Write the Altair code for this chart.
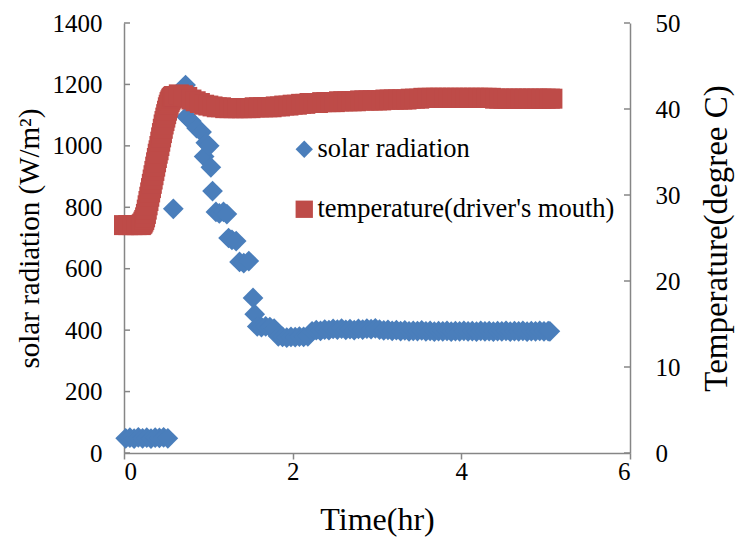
import altair as alt
import pandas as pd

# ---------------- data ----------------
temp_time = [0.00, 0.05, 0.10, 0.15,
             0.20, 0.21, 0.22, 0.23, 0.24, 0.25, 0.26, 0.27, 0.28, 0.29,
             0.30, 0.31, 0.32, 0.33, 0.34, 0.35, 0.36, 0.37, 0.38, 0.39,
             0.40, 0.41, 0.42, 0.43, 0.44, 0.45, 0.46, 0.47, 0.48, 0.49,
             0.50, 0.51, 0.52, 0.53, 0.54, 0.55, 0.56, 0.57, 0.58, 0.59,
             0.60, 0.65, 0.70, 0.75, 0.80, 0.85, 0.90, 0.95,
             1.00, 1.05, 1.10, 1.15, 1.20, 1.25, 1.30, 1.35, 1.40, 1.45,
             1.50, 1.55, 1.60, 1.65, 1.70, 1.75, 1.80, 1.85, 1.90, 1.95,
             2.00, 2.05, 2.10, 2.15, 2.20, 2.25, 2.30, 2.35, 2.40, 2.45,
             2.50, 2.55, 2.60, 2.65, 2.70, 2.75, 2.80, 2.85, 2.90, 2.95,
             3.00, 3.05, 3.10, 3.15, 3.20, 3.25, 3.30, 3.35, 3.40, 3.45,
             3.50, 3.55, 3.60, 3.65, 3.70, 3.75, 3.80, 3.85, 3.90, 3.95,
             4.00, 4.05, 4.10, 4.15, 4.20, 4.25, 4.30, 4.35, 4.40, 4.45,
             4.50, 4.55, 4.60, 4.65, 4.70, 4.75, 4.80, 4.85, 4.90, 4.95,
             5.00, 5.05, 5.08]
temp_value = [26.5, 26.5, 26.5, 26.5,
              26.5, 26.6, 26.7, 26.9, 27.1, 27.4, 27.8, 28.3, 28.8, 29.3,
              29.8, 30.3, 30.8, 31.3, 31.8, 32.3, 32.8, 33.3, 33.8, 34.3,
              34.8, 35.2, 35.7, 36.2, 36.7, 37.2, 37.7, 38.2, 38.6, 39.0,
              39.4, 39.8, 40.2, 40.5, 40.8, 41.0, 41.2, 41.3, 41.4, 41.5,
              41.5, 41.7, 41.6, 41.4, 41.1, 40.9, 40.7, 40.5,
              40.4, 40.3, 40.2, 40.2, 40.1, 40.1, 40.1, 40.1, 40.1, 40.1,
              40.1, 40.2, 40.2, 40.2, 40.2, 40.2, 40.3, 40.3, 40.4, 40.4,
              40.5, 40.5, 40.6, 40.6, 40.7, 40.7, 40.7, 40.8, 40.8, 40.8,
              40.8, 40.9, 40.9, 40.9, 40.9, 40.9, 41.0, 41.0, 41.0, 41.0,
              41.0, 41.0, 41.1, 41.1, 41.1, 41.1, 41.1, 41.1, 41.2, 41.2,
              41.2, 41.3, 41.3, 41.3, 41.3, 41.3, 41.3, 41.3, 41.3, 41.3,
              41.3, 41.3, 41.3, 41.3, 41.3, 41.3, 41.3, 41.3, 41.2, 41.2,
              41.2, 41.2, 41.2, 41.2, 41.2, 41.2, 41.2, 41.2, 41.2, 41.2,
              41.2, 41.2, 41.2]

solar_time = [0.02, 0.07, 0.12, 0.17, 0.22, 0.27, 0.32, 0.37, 0.42, 0.47, 0.52,
              0.585, 0.73, 0.74, 0.80, 0.86, 0.92, 0.95, 0.97, 1.01, 1.03,
              1.05, 1.09, 1.13, 1.18, 1.22, 1.24, 1.28, 1.33, 1.37, 1.42,
              1.48, 1.53, 1.55, 1.58, 1.63, 1.68, 1.73, 1.78, 1.83, 1.88,
              1.93, 1.98, 2.03, 2.08, 2.13, 2.18, 2.23, 2.28, 2.33, 2.38,
              2.43, 2.48, 2.53, 2.58, 2.63, 2.68, 2.73, 2.78, 2.83, 2.88,
              2.93, 2.98, 3.03, 3.08, 3.13, 3.18, 3.23, 3.28, 3.33, 3.38,
              3.43, 3.48, 3.53, 3.58, 3.63, 3.68, 3.73, 3.78, 3.83, 3.88,
              3.93, 3.98, 4.03, 4.08, 4.13, 4.18, 4.23, 4.28, 4.33, 4.38,
              4.43, 4.48, 4.53, 4.58, 4.63, 4.68, 4.73, 4.78, 4.83, 4.88,
              4.93, 4.98, 5.03, 5.05]
solar_value = [48, 50, 47, 51, 48, 50, 47, 50, 49, 51, 48,
               795, 1198, 1095, 1080, 1058, 1045, 965, 1010, 1000, 930,
               853, 785, 780, 785, 778, 700, 694, 690, 622, 618,
               625, 505, 452, 412, 410, 412, 410, 405, 380, 378,
               376, 378, 377, 379, 378, 380, 396, 400, 398, 402,
               400, 404, 402, 405, 401, 403, 400, 404, 402, 405,
               403, 406, 402, 399, 401, 398, 400, 397, 399, 396,
               398, 397, 399, 396, 398, 395, 397, 396, 398, 395,
               397, 396, 398, 396, 397, 395, 398, 396, 397, 395,
               397, 396, 398, 395, 397, 396, 398, 395, 397, 396,
               398, 396, 397, 396]

series_names = ["solar radiation", "temperature(driver's mouth)"]
series_colors = ["#4A7EBB", "#BE4B48"]
series_shapes = ["diamond", "square"]

left_ticks = [0, 200, 400, 600, 800, 1000, 1200, 1400]
right_ticks = [0, 10, 20, 30, 40, 50]
x_ticks = [0, 2, 4, 6]

# ---------------- chart ----------------
W, H = 506, 430
FONT = "Liberation Serif"
AXIS_GRAY = "#868686"

solar_df = pd.DataFrame({"t": solar_time, "v": solar_value, "series": series_names[0]})
temp_df = pd.DataFrame({"t": temp_time, "v": temp_value, "series": series_names[1]})
lt_df = pd.DataFrame({"v": left_ticks})
rt_df = pd.DataFrame({"v": right_ticks})

x_enc = alt.X("t:Q", scale=alt.Scale(domain=[0, 6], nice=False, zero=False),
              axis=alt.Axis(values=x_ticks, title="Time(hr)", format="d",
                            tickSize=6, labelPadding=0, titlePadding=20,
                            titleFontSize=32))

color_enc = alt.Color("series:N",
                      scale=alt.Scale(domain=series_names, range=series_colors),
                      legend=alt.Legend(title=None, orient="none", legendX=167, legendY=113,
                                        direction="vertical", symbolSize=300,
                                        rowPadding=33, labelOffset=0, padding=0,
                                        labelFontSize=26.5, labelFont=FONT,
                                        labelColor="black", symbolStrokeWidth=0,
                                        labelLimit=400))
shape_enc = alt.Shape("series:N",
                      scale=alt.Scale(domain=series_names, range=series_shapes),
                      legend=None)

left_axis = alt.Axis(orient="left", values=left_ticks, title="solar radiation (W/m²)",
                     format="d", ticks=False, tickSize=0, labelPadding=22,
                     titlePadding=8, titleFontSize=29)
right_axis = alt.Axis(orient="right", values=right_ticks, title="Temperature(degree C)",
                      format="d", ticks=False, tickSize=0, labelPadding=25,
                      titlePadding=20, titleFontSize=33, titleAngle=270,
                      titleBaseline="top")
left_scale = alt.Scale(domain=[0, 1400], nice=False)
right_scale = alt.Scale(domain=[0, 50], nice=False)

solar_pts = alt.Chart(solar_df).mark_point(filled=True, size=430, opacity=1, strokeWidth=0).encode(
    x=x_enc,
    y=alt.Y("v:Q", scale=left_scale, axis=left_axis),
    color=color_enc, shape=shape_enc)

left_tick_rules = alt.Chart(lt_df).mark_rule(color=AXIS_GRAY, strokeWidth=1.5).encode(
    y=alt.Y("v:Q", scale=left_scale, axis=left_axis), x=alt.value(0), x2=alt.value(6))

temp_pts = alt.Chart(temp_df).mark_point(filled=True, size=400, opacity=1, strokeWidth=0).encode(
    x=x_enc,
    y=alt.Y("v:Q", scale=right_scale, axis=right_axis),
    color=color_enc, shape=shape_enc)

right_tick_rules = alt.Chart(rt_df).mark_rule(color=AXIS_GRAY, strokeWidth=1.5).encode(
    y=alt.Y("v:Q", scale=right_scale, axis=right_axis), x=alt.value(W - 6), x2=alt.value(W))

left = alt.layer(solar_pts, left_tick_rules)
right = alt.layer(temp_pts, right_tick_rules)

chart = alt.layer(left, right).resolve_scale(y="independent").properties(
    width=W, height=H,
    autosize=alt.AutoSizeParams(type="none"),
    padding={"left": 124, "top": 23, "right": 107, "bottom": 89},
    background="white",
).configure_view(stroke=None).configure_axis(
    labelFont=FONT, labelFontSize=25, labelColor="black",
    titleFont=FONT, titleFontSize=30, titleFontWeight="normal", titleColor="black",
    domainColor=AXIS_GRAY, domainWidth=1.5, tickColor=AXIS_GRAY, tickWidth=1.5,
    grid=False,
)

chart.save("out.html", embed_options={"renderer": "svg", "actions": False})
